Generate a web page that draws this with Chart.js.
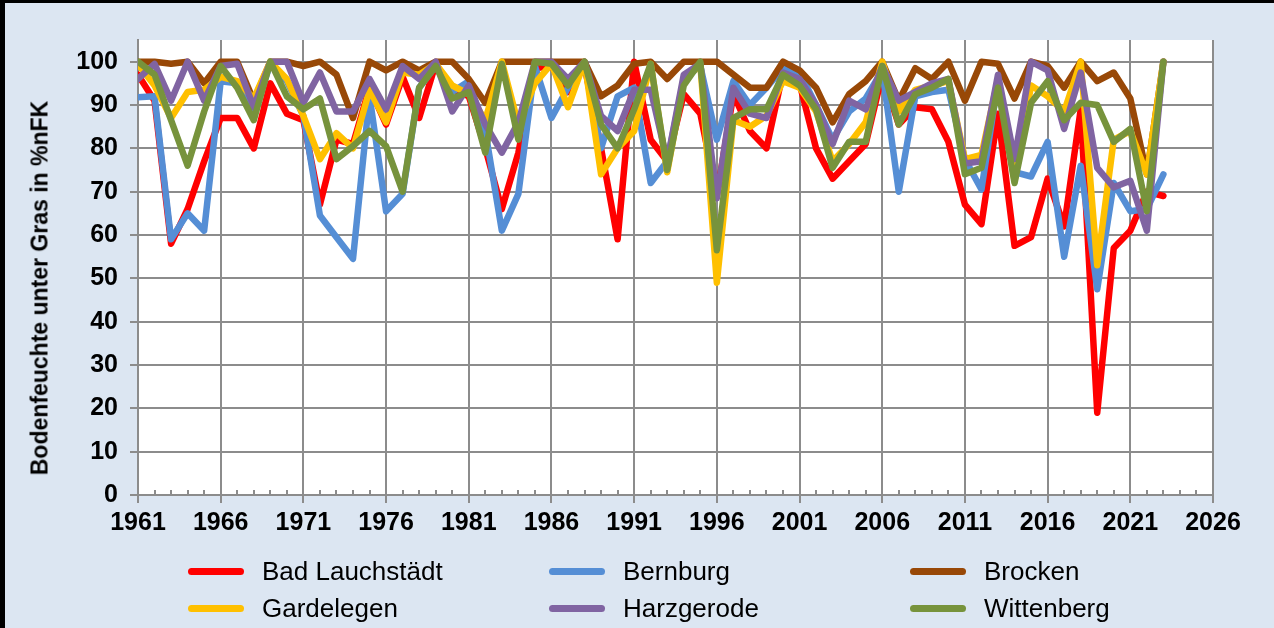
<!DOCTYPE html>
<html lang="de">
  <head>
    <meta charset="utf-8" />
    <title>Bodenfeuchte unter Gras</title>
    <script src="https://cdn.jsdelivr.net/npm/chart.js@4.4.0/dist/chart.umd.min.js"></script>
    <style>
      body { margin: 0; }
      #frame {
        position: relative; width: 1274px; height: 628px; box-sizing: border-box;
        background: #dce6f2; border-top: 3px solid #000; border-left: 5px solid #000;
        font-family: "Liberation Sans", Arial, sans-serif; overflow: hidden;
      }
      #chart { position: absolute; left: -5px; top: -3px; }
      #ytitle {
        position: absolute; left: 35px; top: 285px; white-space: nowrap;
        transform: translate(-50%, -50%) rotate(-90deg);
        font-weight: bold; font-size: 23px; color: #000;
      }
      #legend {
        position: absolute; left: 183px; top: 550px;
        display: grid; grid-template-columns: 361px 361px 361px; grid-auto-rows: 37px;
      }
      .item { display: flex; align-items: center; font-size: 26px; color: #000; }
      .swatch { width: 56px; height: 7px; border-radius: 4px; margin-right: 18px; }
    </style>
  </head>
  <body>
    <div id="frame">
      <canvas id="chart" width="1274" height="628"></canvas>
      <div id="ytitle">Bodenfeuchte unter Gras in %nFK</div>
      <div id="legend"></div>
    </div>
    <script>
      const years = [1961, 1962, 1963, 1964, 1965, 1966, 1967, 1968, 1969, 1970,
        1971, 1972, 1973, 1974, 1975, 1976, 1977, 1978, 1979, 1980,
        1981, 1982, 1983, 1984, 1985, 1986, 1987, 1988, 1989, 1990,
        1991, 1992, 1993, 1994, 1995, 1996, 1997, 1998, 1999, 2000,
        2001, 2002, 2003, 2004, 2005, 2006, 2007, 2008, 2009, 2010,
        2011, 2012, 2013, 2014, 2015, 2016, 2017, 2018, 2019, 2020,
        2021, 2022, 2023];
      const yTicks = [0, 10, 20, 30, 40, 50, 60, 70, 80, 90, 100];

      const badLauchstaedt = [97, 91, 58, 66, 77, 87, 87, 80, 95, 88,
        86.5, 67, 82, 81, 94, 85.5, 96.5, 87, 99.5, 93.5,
        92, 80, 66, 79, 98.5, 99, 93, 99, 80, 59,
        100, 82, 77, 92.5, 88, 69, 92.5, 84, 80, 97.5,
        95, 80, 73, 77, 81, 97, 85.5, 89.5, 89, 81.5,
        67, 62.5, 88, 57.5, 59.5, 73, 62, 89, 19, 57,
        61, 70, 69];
      const bernburg = [91.8, 92, 59, 65, 61, 95.5, 95, 88, 99.5, 95.5,
        87.5, 64.5, 59.5, 54.5, 92, 65.5, 69.5, 94, 99, 93,
        95.5, 84, 61, 69.5, 99, 87, 94, 99.5, 80, 92,
        94, 72, 77, 96, 99, 82, 95.5, 90, 94, 98.5,
        97.5, 90, 82, 88.5, 91.5, 98, 70, 92, 93, 93.5,
        77.5, 70.5, 95.5, 74.5, 73.5, 81.5, 55, 76, 47.5, 72,
        65.5, 66, 74];
      const brocken = [100, 100, 99.5, 100, 95, 100, 100, 91, 100, 100,
        99, 100, 97, 87, 100, 98, 100, 98, 100, 100,
        96, 90.5, 100, 100, 100, 100, 100, 100, 92, 94.5,
        99.5, 100, 96, 100, 100, 100, 97, 94, 94, 100,
        98, 94, 86, 92.5, 95.5, 100, 91, 98.5, 96, 100,
        91, 100, 99.5, 91.5, 100, 99, 94, 100, 95.5, 97.5,
        91.5, 74, 100];
      const gardelegen = [99.4, 94.5, 87, 93, 93.5, 96.5, 95.5, 91.5, 100, 96,
        87.5, 77.5, 83.5, 80, 93.5, 86, 97.5, 97, 99.5, 94.5,
        92.5, 86.5, 100, 85.5, 95, 99.5, 89.5, 100, 74, 80,
        84, 99.5, 74.5, 95.5, 99.5, 49, 86.5, 85, 87.5, 95.5,
        94, 88.5, 77, 81, 86, 100, 88.5, 93.5, 94.5, 95.5,
        77.5, 78.5, 96, 72.5, 94.5, 92, 88.5, 100, 53, 82,
        84, 74, 100];
      const harzgerode = [96, 99.5, 91, 100, 91, 99, 99.5, 89.5, 100, 100,
        90.5, 97.5, 88.5, 88.5, 96, 89, 99, 96, 100, 88.5,
        94.5, 85.5, 79, 86, 100, 100, 96, 100, 87.5, 84,
        93.5, 93.5, 77, 97, 99.5, 68.5, 94, 88, 87, 97.5,
        96, 90, 81, 91, 89, 99, 91, 93, 95, 96,
        76.5, 77, 97, 77.5, 100, 98, 84.5, 97.5, 75.5, 71,
        72.5, 61, 100];
      const wittenberg = [100, 97, 86.5, 76, 88.5, 99, 94, 86.5, 100, 92,
        89, 91.5, 77.5, 80.5, 84, 80.5, 70, 94, 99, 91.5,
        93, 79, 99.5, 82, 100, 99.5, 94.5, 100, 85.5, 80,
        89, 99.5, 75, 94.5, 100, 56.5, 87, 89, 89, 97,
        94.5, 89, 75.5, 81.5, 81.5, 99, 85.5, 92.5, 94, 96,
        74, 75.5, 94, 72, 90.5, 95.5, 86.5, 90.5, 90, 81.5,
        84.5, 65.5, 100];

      const seriesNames = ["Bad Lauchstädt", "Bernburg", "Brocken", "Gardelegen", "Harzgerode", "Wittenberg"];
      const seriesValues = [badLauchstaedt, bernburg, brocken, gardelegen, harzgerode, wittenberg];
      const seriesColors = ["#ff0000", "#558ed5", "#984807", "#ffc000", "#8064a2", "#77933c"];

      const GRID = "#8c8c8c";
      const TICK_FONT = { family: "'Liberation Sans', Arial", size: 25, weight: "bold" };

      // later series lie on top, like in the original
      const datasets = seriesNames.map((name, i) => ({
        label: name,
        data: years.map((y, k) => ({ x: y, y: seriesValues[i][k] })),
        borderColor: seriesColors[i],
        backgroundColor: seriesColors[i],
        borderWidth: 6.5,
        pointRadius: 0,
        borderJoinStyle: "round",
        borderCapStyle: "round",
        fill: false,
        order: seriesNames.length - i,
      }));

      const isMajor = (v) => (v - 1961) % 5 === 0;

      const plotBackground = {
        id: "plotBackground",
        beforeDraw(chart) {
          const a = chart.chartArea;
          chart.ctx.save();
          chart.ctx.fillStyle = "#ffffff";
          chart.ctx.fillRect(a.left, a.top, a.right - a.left, a.bottom - a.top);
          chart.ctx.restore();
        },
      };

      // small inner tick marks for every year
      const minorTicks = {
        id: "minorTicks",
        afterDraw(chart) {
          const xs = chart.scales.x;
          const ctx = chart.ctx;
          ctx.save();
          ctx.strokeStyle = GRID;
          ctx.lineWidth = 2;
          for (let y = 1962; y < 2026; y++) {
            if (isMajor(y)) continue;
            const px = Math.round(xs.getPixelForValue(y));
            ctx.beginPath();
            ctx.moveTo(px, chart.chartArea.bottom - 5);
            ctx.lineTo(px, chart.chartArea.bottom);
            ctx.stroke();
          }
          ctx.restore();
        },
      };

      new Chart(document.getElementById("chart"), {
        type: "line",
        data: { datasets: datasets },
        plugins: [plotBackground, minorTicks],
        options: {
          responsive: false,
          animation: false,
          layout: { padding: { top: 40, right: 61, left: 0, bottom: 0 } },
          plugins: { legend: { display: false }, tooltip: { enabled: false } },
          scales: {
            x: {
              type: "linear",
              min: 1961,
              max: 2026,
              afterFit: (s) => { s.height = 133; },
              ticks: {
                stepSize: 1,
                autoSkip: false,
                maxRotation: 0,
                padding: 5,
                color: "#000",
                font: TICK_FONT,
                callback: (v) => (isMajor(v) ? String(v) : ""),
              },
              grid: {
                color: (c) => (isMajor(c.tick.value) ? GRID : "rgba(0,0,0,0)"),
                tickColor: (c) => (isMajor(c.tick.value) ? GRID : "rgba(0,0,0,0)"),
                lineWidth: 2,
                tickLength: 8,
              },
              border: { color: GRID, width: 2 },
            },
            y: {
              min: 0,
              max: 105,
              afterFit: (s) => { s.width = 138; },
              afterBuildTicks: (s) => { s.ticks = yTicks.map((v) => ({ value: v })); },
              ticks: {
                padding: 12,
                color: "#000",
                font: TICK_FONT,
              },
              grid: { color: GRID, lineWidth: 2, tickLength: 8 },
              border: { color: GRID, width: 2 },
            },
          },
        },
      });

      const legend = document.getElementById("legend");
      seriesNames.forEach((name, i) => {
        const item = document.createElement("div");
        item.className = "item";
        item.innerHTML = '<span class="swatch" style="background:' + seriesColors[i] + '"></span>' + name;
        legend.appendChild(item);
      });
    </script>
  </body>
</html>
